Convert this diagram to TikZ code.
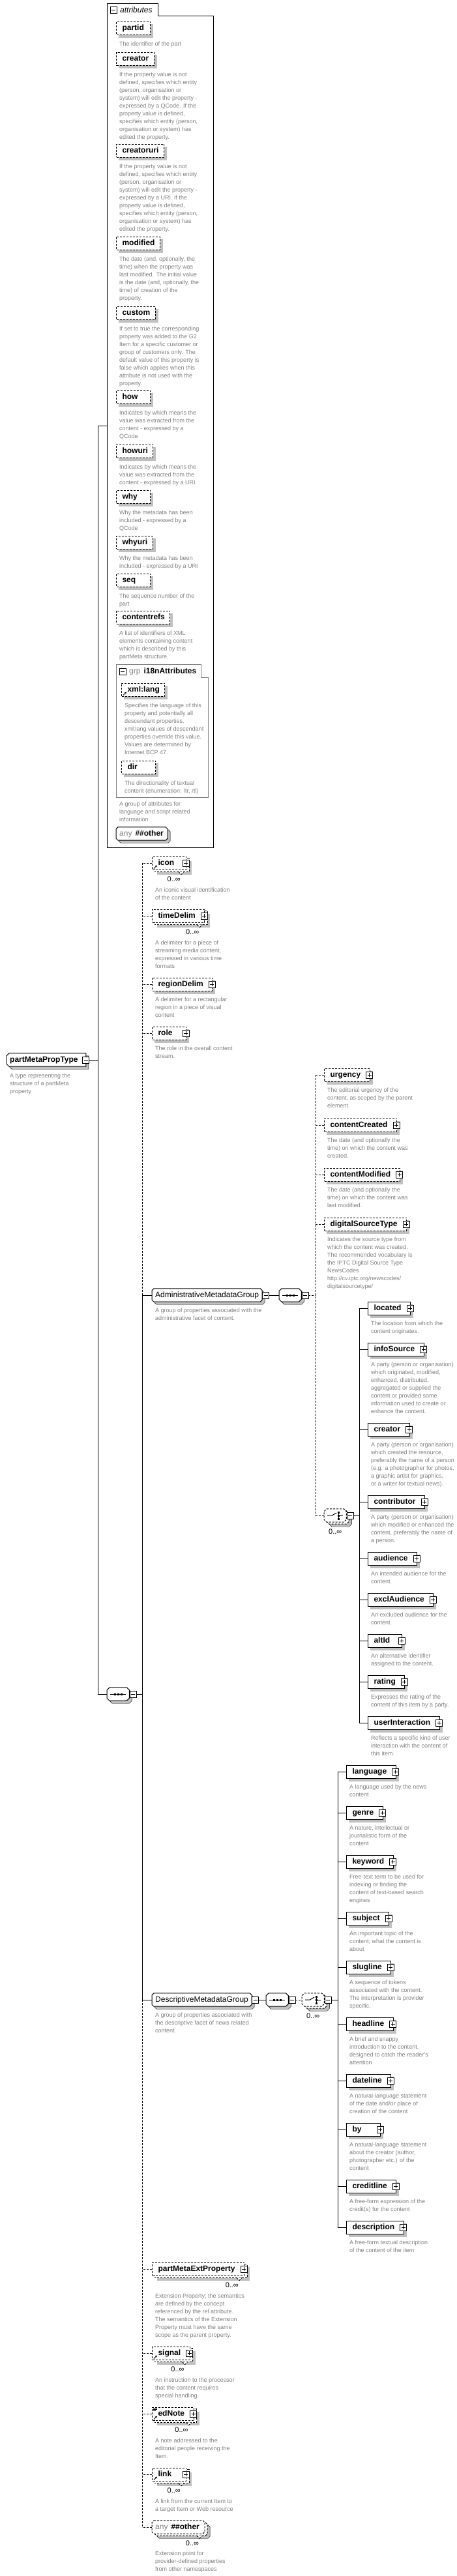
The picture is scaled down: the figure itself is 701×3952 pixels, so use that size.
\documentclass[tikz,border=0pt]{standalone}
\usepackage{fontspec}
\setmainfont{Liberation Sans}
\usetikzlibrary{arrows.meta}
\pgfdeclarelayer{bg}
\pgfdeclarelayer{mid}
\pgfsetlayers{bg,mid,main}
\definecolor{dgray}{RGB}{128,128,128}
\definecolor{shc}{RGB}{192,192,192}
\newcommand\bfnt{\fontsize{12}{14}\selectfont\bfseries}
\newcommand\rfnt{\fontsize{12}{14}\selectfont}
\newcommand\dfnt{\fontsize{9}{12}\selectfont}
\newcommand\mfnt{\fontsize{11}{13}\selectfont}
\newsavebox\lbx
\newcommand\lb[2]{\sbox\lbx{\hspace*{9pt}#1\hspace*{#2}}\ifdim\wd\lbx<52pt\makebox[52pt][l]{\usebox\lbx}\else\usebox\lbx\fi}
\tikzset{
 box/.style={draw,fill=white,line width=1pt,minimum height=20pt,inner sep=0pt,anchor=west,text height=9pt,text depth=2.5pt,font=\bfnt},
 optl/.style={dash pattern=on 3pt off 2pt},
 dsc/.style={anchor=north west,inner sep=0pt,align=left,font=\dfnt,text=dgray},
 pbox/.style={draw,fill=white,line width=0.8pt,minimum size=10pt,inner sep=0pt},
 lbl/.style={font=\mfnt,inner sep=0pt,anchor=base east},
 txt/.style={inner sep=0pt,anchor=west,minimum height=20pt,text height=9pt,text depth=2.5pt},
 conn/.style={line width=1pt},
}
\newcommand\shd[1]{\begin{pgfonlayer}{bg}\fill[shc] ([shift={(4,4)}]#1.north west) rectangle ([shift={(4,4)}]#1.south east);\end{pgfonlayer}}
\newcommand\pls[1]{\node[pbox] (#1p) at ([xshift=-1pt]#1.east) {};\draw[line width=0.8pt] ([xshift=-3pt]#1p.center) -- ([xshift=3pt]#1p.center) ([yshift=-3pt]#1p.center) -- ([yshift=3pt]#1p.center);}
\newcommand\mns[2]{\node[pbox] (#1) at (#2) {};\draw[line width=0.8pt] ([xshift=-3pt]#1.center) -- ([xshift=3pt]#1.center);}
\newcommand\bck[2]{\begin{pgfonlayer}{bg}\fill[shc] ([shift={(8,7)}]#2.north west) rectangle ([shift={(8,7)}]#2.south east);\draw[fill=white,line width=1pt,#1] ([shift={(4,3)}]#2.north west) rectangle ([shift={(4,3)}]#2.south east);\end{pgfonlayer}}
\newcommand\ntch[2]{\draw[fill=white,line width=1pt,#1] ([shift={(-12,3)}]#2.south east) -- ++(4,4) -- ++(4,-4);}
\newcommand\rf[1]{\draw[line width=0.9pt,-{Stealth[length=3pt,width=3pt]}] ([shift={(3,-2)}]#1.south west) -- ([shift={(8,-7)}]#1.south west);}
\newcommand\E[6]{\node[box,#1] (#2) at (#3,#4) {\lb{#5}{14pt}};\shd{#2}\pls{#2}\node[dsc] (#2d) at ([shift={(5,7.5)}]#2.south west) {\rule{0pt}{8.5pt}#6};}
\newcommand\ME[6]{\node[box,#1] (#2) at (#3,#4) {\lb{#5}{14pt}};\bck{#1}{#2}\pls{#2}\ntch{#1}{#2}\node[lbl] (#2m) at ([shift={(-9,18)}]#2.south east) {0..∞};\node[dsc] (#2d) at ([shift={(5,25.5)}]#2.south west) {\rule{0pt}{8.5pt}#6};}
\newcommand\A[5]{\node[box,optl] (#1) at (#2,#3) {\lb{#4}{8pt}};\shd{#1}\node[dsc] (#1d) at ([shift={(5,8.5)}]#1.south west) {\rule{0pt}{8.5pt}#5};}
\newcommand\octo[3]{\draw[#3] ([xshift=#2]#1.north west) -- ([xshift=-#2]#1.north east) -- ([yshift=-#2]#1.north east) -- ([yshift=#2]#1.south east) -- ([xshift=-#2]#1.south east) -- ([xshift=#2]#1.south west) -- ([yshift=#2]#1.south west) -- ([yshift=-#2]#1.north west) -- cycle;}
\newcommand\octl[3]{\draw[#3] ([xshift=#2]#1.north west) -- (#1.north east) -- (#1.south east) -- ([xshift=#2]#1.south west) -- ([yshift=#2]#1.south west) -- ([yshift=-#2]#1.north west) -- cycle;}
\newcommand\OCT[3][]{\begin{pgfonlayer}{bg}\octo{#2}{#3}{fill=shc,transform canvas={shift={(4pt,-4pt)}}}\end{pgfonlayer}\begin{pgfonlayer}{mid}\octo{#2}{#3}{fill=white,line width=1pt,#1}\end{pgfonlayer}}
\newcommand\OCTM[3][]{\begin{pgfonlayer}{bg}\octo{#2}{#3}{fill=shc,transform canvas={shift={(8pt,-7pt)}}}\octo{#2}{#3}{fill=white,line width=1pt,#1,transform canvas={shift={(4pt,-3pt)}}}\end{pgfonlayer}\begin{pgfonlayer}{mid}\octo{#2}{#3}{fill=white,line width=1pt,#1}\end{pgfonlayer}}
\newcommand\seqsym[1]{\draw[line width=1pt] ([xshift=-12pt]#1.center) -- ([xshift=12pt]#1.center);\foreach \dd in {-5,0,5}{\fill ([xshift=\dd pt]#1.center) +(-1.5pt,-1.5pt) rectangle +(1.5pt,1.5pt);}}
\newcommand\chsym[1]{\draw[line width=1pt] ([xshift=-12pt]#1.center) -- ([xshift=-5pt]#1.center) -- ([shift={(2pt,4pt)}]#1.center);\draw[line width=0.8pt] ([shift={(5pt,5pt)}]#1.center) -- ([shift={(5pt,-5pt)}]#1.center);\foreach \dd in {-5,0,5}{\fill ([shift={(5pt,\dd pt)}]#1.center) +(-1.5pt,-1.5pt) rectangle +(1.5pt,1.5pt);}\draw[line width=1pt] ([xshift=5pt]#1.center) -- ([xshift=12pt]#1.center);}
\begin{document}
\begin{tikzpicture}[x=1pt,y=-1pt]
\begin{pgfonlayer}{bg}\fill[white] (0,0) rectangle (701,3952);\end{pgfonlayer}
\useasboundingbox (0,0) rectangle (701,3952);
% ---------- type ----------
\node[txt] (typ) at (10,1626) {\hspace*{5pt}\bfnt partMetaPropType\hspace*{12pt}};
\begin{pgfonlayer}{bg}\octl{typ}{4pt}{fill=shc,transform canvas={shift={(4pt,-4pt)}}}\end{pgfonlayer}
\begin{pgfonlayer}{mid}\octl{typ}{4pt}{fill=white,line width=1pt}\end{pgfonlayer}
\mns{typm}{typ.east}
\node[dsc] (typd) at (15,1644.5) {\rule{0pt}{8.5pt}A type representing the\\structure of a partMeta\\property};
% ---------- attributes ----------
\draw[line width=1pt] (164,1300) -- (164,5) -- (242,5) -- (242,24) -- (327,24) -- (327,1300) -- cycle;
\coordinate (aL) at (164,653);
\mns{atabm}{174,15}
\node[anchor=west,inner sep=0pt,font=\rfnt\itshape] (atab) at (184,15) {attributes};
\A{atpartid}{178}{43}{partid}{The identifier of the part}
\A{atcreator}{178}{90}{creator}{If the property value is not\\defined, specifies which entity\\(person, organisation or\\system) will edit the property -\\expressed by a QCode. If the\\property value is defined,\\specifies which entity (person,\\organisation or system) has\\edited the property.}
\A{atcreatoruri}{178}{231}{creatoruri}{If the property value is not\\defined, specifies which entity\\(person, organisation or\\system) will edit the property -\\expressed by a URI. If the\\property value is defined,\\specifies which entity (person,\\organisation or system) has\\edited the property.}
\A{atmodified}{178}{373}{modified}{The date (and, optionally, the\\time) when the property was\\last modified. The initial value\\is the date (and, optionally, the\\time) of creation of the\\property.}
\A{atcustom}{178}{480}{custom}{If set to true the corresponding\\property was added to the G2\\Item for a specific customer or\\group of customers only. The\\default value of this property is\\false which applies when this\\attribute is not used with the\\property.}
\A{athow}{178}{609}{how}{Indicates by which means the\\value was extracted from the\\content - expressed by a\\QCode}
\A{athowuri}{178}{692}{howuri}{Indicates by which means the\\value was extracted from the\\content - expressed by a URI}
\A{atwhy}{178}{762}{why}{Why the metadata has been\\included - expressed by a\\QCode}
\A{atwhyuri}{178}{832}{whyuri}{Why the metadata has been\\included - expressed by a URI}
\A{atseq}{178}{890}{seq}{The sequence number of the\\part}
\A{atcref}{178}{947}{contentrefs}{A list of identifiers of XML\\elements containing content\\which is described by this\\partMeta structure.}
% i18n group
\draw[line width=1pt,draw=dgray] (178,1223) -- (178,1019) -- (308,1019) -- (308,1039) -- (319,1039) -- (319,1223) -- cycle;
\mns{grpm}{188,1030}
\node[anchor=west,inner sep=0pt,font=\rfnt] (grpt) at (198,1030) {\textcolor{dgray}{grp}\hspace{5pt}\textbf{i18nAttributes}};
\A{atlang}{186}{1058}{xml:lang}{Specifies the language of this\\property and potentially all\\descendant properties.\\xml:lang values of descendant\\properties override this value.\\Values are determined by\\Internet BCP 47.}
\rf{atlang}
\A{atdir}{186}{1177}{dir}{The directionality of textual\\content (enumeration: ltr, rtl)}
\node[dsc] (grpd) at (183,1227.5) {\rule{0pt}{8.5pt}A group of attributes for\\language and script related\\information};
\node[txt] (atany) at (178,1279) {\hspace*{5pt}\rfnt\textcolor{dgray}{any}\hspace*{5pt}\bfseries\#\#other\hspace*{6pt}};
\OCT{atany}{3pt}
% ---------- main sequence ----------
\node[txt,minimum width=34pt] (mseq) at (164,2599) {};
\OCT{mseq}{4pt}
\seqsym{mseq}
\mns{mseqm}{[xshift=5.5pt]mseq.east}
\ME{optl}{icon}{233}{1324}{icon}{An iconic visual identification\\of the content}
\rf{icon}
\ME{optl}{tdel}{233}{1405}{timeDelim}{A delimiter for a piece of\\streaming media content,\\expressed in various time\\formats}
\E{optl}{rdel}{233}{1510}{regionDelim}{A delimiter for a rectangular\\region in a piece of visual\\content}
\E{optl}{role}{233}{1585}{role}{The role in the overall content\\stream.}
% administrative group
\node[txt,font=\rfnt] (adm) at (233,1987) {\hspace*{5pt}AdministrativeMetadataGroup\hspace*{5pt}};
\OCT{adm}{3pt}
\mns{admm}{[xshift=5.5pt]adm.east}
\node[dsc] (admd) at (238,2004.5) {\rule{0pt}{8.5pt}A group of properties associated with the\\administrative facet of content.};
\node[txt,minimum width=34pt] (aseq) at (428,1987) {};
\OCT{aseq}{4pt}
\seqsym{aseq}
\mns{aseqm}{[xshift=5.5pt]aseq.east}
\E{optl}{urg}{497}{1649}{urgency}{The editorial urgency of the\\content, as scoped by the parent\\element.}
\E{optl}{ccr}{497}{1726}{contentCreated}{The date (and optionally the\\time) on which the content was\\created.}
\E{optl}{cmod}{497}{1802}{contentModified}{The date (and optionally the\\time) on which the content was\\last modified.}
\E{optl}{dst}{497}{1878}{digitalSourceType}{Indicates the source type from\\which the content was created.\\The recommended vocabulary is\\the IPTC Digital Source Type\\NewsCodes\\http://cv.iptc.org/newscodes/\\digitalsourcetype/}
\node[txt,minimum width=34pt] (ach) at (497,2325) {};
\OCTM[optl]{ach}{4pt}
\chsym{ach}
\mns{achm}{[xshift=5.5pt]ach.east}
\node[font=\mfnt,inner sep=0pt,anchor=base west] (achl) at ([shift={(7,18)}]ach.south west) {0..∞};
\E{}{loc}{564}{2007}{located}{The location from which the\\content originates.}
\E{}{isrc}{564}{2070}{infoSource}{A party (person or organisation)\\which originated, modified,\\enhanced, distributed,\\aggregated or supplied the\\content or provided some\\information used to create or\\enhance the content.}
\E{}{acre}{564}{2193}{creator}{A party (person or organisation)\\which created the resource,\\preferably the name of a person\\(e.g. a photographer for photos,\\a graphic artist for graphics,\\or a writer for textual news).}
\E{}{contr}{564}{2304}{contributor}{A party (person or organisation)\\which modified or enhanced the\\content, preferably the name of\\a person.}
\E{}{aud}{564}{2391}{audience}{An intended audience for the\\content.}
\E{}{exa}{564}{2454}{exclAudience}{An excluded audience for the\\content.}
\E{}{alt}{564}{2517}{altId}{An alternative identifier\\assigned to the content.}
\E{}{rat}{564}{2580}{rating}{Expresses the rating of the\\content of this item by a party.}
\E{}{uint}{564}{2643}{userInteraction}{Reflects a specific kind of user\\interaction with the content of\\this item.}
% descriptive group
\node[txt,font=\rfnt] (dgrp) at (233,3068) {\hspace*{5pt}DescriptiveMetadataGroup\hspace*{5pt}};
\OCT{dgrp}{3pt}
\mns{dgrpm}{[xshift=5.5pt]dgrp.east}
\node[dsc] (dgrpd) at (238,3085.5) {\rule{0pt}{8.5pt}A group of properties associated with\\the descriptive facet of news related\\content.};
\node[txt,minimum width=34pt] (dseq) at (408,3068) {};
\OCT{dseq}{4pt}
\seqsym{dseq}
\mns{dseqm}{[xshift=5.5pt]dseq.east}
\node[txt,minimum width=34pt] (dch) at (463,3068) {};
\OCTM[optl]{dch}{4pt}
\chsym{dch}
\mns{dchm}{[xshift=5.5pt]dch.east}
\node[font=\mfnt,inner sep=0pt,anchor=base west] (dchl) at ([shift={(7,18)}]dch.south west) {0..∞};
\E{}{lang}{531}{2718}{language}{A language used by the news\\content}
\E{}{genre}{531}{2781}{genre}{A nature, intellectual or\\journalistic form of the\\content}
\E{}{kw}{531}{2856}{keyword}{Free-text term to be used for\\indexing or finding the\\content of text-based search\\engines}
\E{}{subj}{531}{2943}{subject}{An important topic of the\\content; what the content is\\about}
\E{}{slug}{531}{3018}{slugline}{A sequence of tokens\\associated with the content.\\The interpretation is provider\\specific.}
\E{}{head}{531}{3105}{headline}{A brief and snappy\\introduction to the content,\\designed to catch the reader's\\attention}
\E{}{datel}{531}{3192}{dateline}{A natural-language statement\\of the date and/or place of\\creation of the content}
\E{}{by}{531}{3267}{by}{A natural-language statement\\about the creator (author,\\photographer etc.) of the\\content}
\E{}{cred}{531}{3354}{creditline}{A free-form expression of the\\credit(s) for the content}
\E{}{descr}{531}{3417}{description}{A free-form textual description\\of the content of the item}
% lower elements
\ME{optl}{pmep}{233}{3481}{partMetaExtProperty}{Extension Property; the semantics\\are defined by the concept\\referenced by the rel attribute.\\The semantics of the Extension\\Property must have the same\\scope as the parent property.}
\ME{optl}{signal}{233}{3610}{signal}{An instruction to the processor\\that the content requires\\special handling.}
\rf{signal}
\ME{optl}{ednote}{233}{3703}{edNote}{A note addressed to the\\editorial people receiving the\\Item.}
\rf{ednote}
\draw[line width=0.6pt] ([shift={(2,2)}]ednote.north west) -- ++(6,0) ([shift={(2,4)}]ednote.north west) -- ++(6,0) ([shift={(2,6)}]ednote.north west) -- ++(4,0);
\ME{optl}{link}{233}{3796}{link}{A link from the current Item to\\a target Item or Web resource}
\rf{link}
\node[txt] (anyo) at (233,3877) {\hspace*{5pt}\rfnt\textcolor{dgray}{any}\hspace*{5pt}\bfseries\#\#other\hspace*{8pt}};
\OCTM[optl]{anyo}{3pt}
\ntch{optl}{anyo}
\node[lbl] (anyom) at ([shift={(-9,18)}]anyo.south east) {0..∞};
\node[dsc] (anyod) at (238,3911.5) {\rule{0pt}{8.5pt}Extension point for\\provider-defined properties\\from other namespaces};
% ---------- connectors ----------
\coordinate (T0) at (150,0);
\coordinate (T1) at (218,0);
\coordinate (T2) at (484,0);
\coordinate (T3) at (551,0);
\coordinate (T4) at (518,0);
\draw[conn] (typm.east) -- (typm.east -| T0);
\draw[conn] (aL) -- (aL -| T0) -- (mseq.west -| T0) -- (mseq.west);
\draw[conn] (mseqm.east) -- (mseqm.east -| T1);
\draw[conn,optl] (icon.west -| T1) -- (adm.west -| T1);
\draw[conn] (adm.west -| T1) -- (dgrp.west -| T1);
\draw[conn,optl] (dgrp.west -| T1) -- (anyo.west -| T1);
\foreach \n in {icon,tdel,rdel,role,pmep,signal,ednote,link,anyo} {\draw[conn,optl] (\n.west) -- (\n.west -| T1);}
\draw[conn] (adm.west) -- (adm.west -| T1);
\draw[conn] (dgrp.west) -- (dgrp.west -| T1);
\draw[conn] (admm.east) -- (aseq.west);
\draw[conn,optl] (aseqm.east) -- (aseqm.east -| T2);
\draw[conn,optl] (urg.west -| T2) -- (ach.west -| T2);
\foreach \n in {urg,ccr,cmod,dst,ach} {\draw[conn,optl] (\n.west) -- (\n.west -| T2);}
\draw[conn] (achm.east) -- (achm.east -| T3);
\draw[conn] (loc.west -| T3) -- (uint.west -| T3);
\foreach \n in {loc,isrc,acre,contr,aud,exa,alt,rat,uint} {\draw[conn] (\n.west) -- (\n.west -| T3);}
\draw[conn] (dgrpm.east) -- (dseq.west);
\draw[conn,optl] (dseqm.east) -- (dch.west);
\draw[conn] (dchm.east) -- (dchm.east -| T4);
\draw[conn] (lang.west -| T4) -- (descr.west -| T4);
\foreach \n in {lang,genre,kw,subj,slug,head,datel,by,cred,descr} {\draw[conn] (\n.west) -- (\n.west -| T4);}
\end{tikzpicture}
\end{document}
